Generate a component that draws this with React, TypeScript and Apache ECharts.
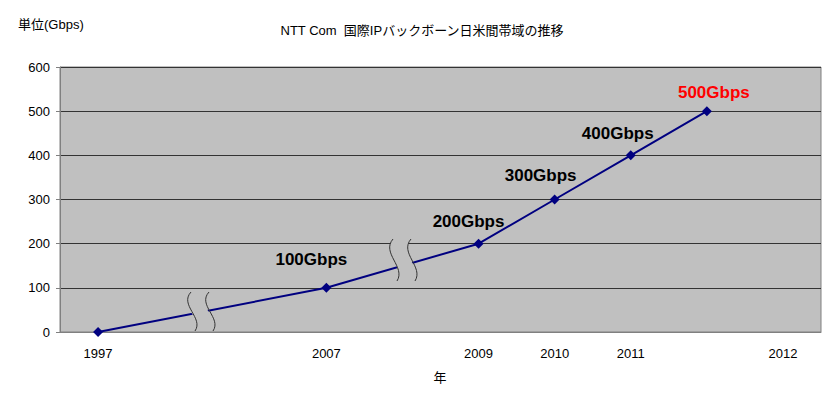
import React, { useEffect, useRef } from "react";
import * as echarts from "echarts";

const categories = ["1997", "", "", "2007", "", "2009", "2010", "2011", "", "2012"];
const bandwidth: (number | null)[] = [0, null, null, 100, null, 200, 300, 400, 500, null];
const labelTexts: (string | null)[] = [null, null, null, "100Gbps", null, "200Gbps", "300Gbps", "400Gbps", "500Gbps", null];
const labelColors: string[] = ["#000", "#000", "#000", "#000", "#000", "#000", "#000", "#000", "#ff0000", "#000"];
const labelOffsets: [number, number][] = [[0, 0], [0, 0], [0, 0], [-15, -28], [0, 0], [-10, -22], [-14, -24], [-13, -22], [7, -19], [0, 0]];

const FONT = "'Liberation Sans', Arial, 'Noto Sans CJK JP', sans-serif";

function breakMark(x: number, y: number, h: number) {
  const gap = 18;
  const q = h / 3;
  const curve = (dx: number) => ({
    type: "bezierCurve",
    shape: {
      x1: x + dx, y1: y,
      cpx1: x + dx - 12, cpy1: y + q,
      cpx2: x + dx + 13, cpy2: y + 2 * q,
      x2: x + dx + 4, y2: y + h,
    },
    style: { stroke: "#333", lineWidth: 1, fill: "none" },
    z: 101,
  });
  return [
    {
      type: "polygon",
      shape: {
        points: [
          [x - 2, y + 2], [x - 5, y + q], [x + 4, y + 2 * q], [x + 4, y + h],
          [x + gap + 4, y + h], [x + gap + 4, y + 2 * q], [x + gap - 5, y + q], [x + gap - 2, y + 2],
        ],
      },
      style: { fill: "#c0c0c0" },
      z: 100,
    },
    curve(0),
    curve(gap),
  ];
}

export default function App() {
  const ref = useRef<HTMLDivElement>(null);
  useEffect(() => {
    if (!ref.current) return;
    document.body.style.margin = "0";
    const chart = echarts.init(ref.current, null, { renderer: "svg" });
    chart.setOption({
      animation: false,
      backgroundColor: "#fff",
      textStyle: { fontFamily: FONT },
      grid: {
        left: 60, right: 5, top: 67, bottom: 67,
        show: true, backgroundColor: "#c0c0c0", borderColor: "#808080", borderWidth: 1,
      },
      xAxis: {
        type: "category",
        data: categories,
        boundaryGap: true,
        axisLine: { show: true, lineStyle: { color: "#808080" } },
        axisTick: { show: false },
        axisLabel: { interval: 0, color: "#000", fontSize: 13, margin: 15, fontFamily: FONT },
        splitLine: { show: false },
      },
      yAxis: {
        type: "value",
        min: 0, max: 600, interval: 100,
        axisLine: { show: true, lineStyle: { color: "#808080" } },
        axisTick: { show: true, length: 4, lineStyle: { color: "#808080" } },
        axisLabel: { color: "#000", fontSize: 13, margin: 10, fontFamily: FONT },
        splitLine: { show: true, lineStyle: { color: "#333", width: 1 } },
      },
      series: [
        {
          type: "line",
          connectNulls: true,
          symbol: "diamond",
          symbolSize: 10,
          itemStyle: { color: "#000080" },
          lineStyle: { color: "#000080", width: 2 },
          data: bandwidth.map((v, i) => ({
            value: v,
            label: labelTexts[i]
              ? {
                  show: true,
                  formatter: labelTexts[i] as string,
                  position: "inside",
                  offset: labelOffsets[i],
                  color: labelColors[i],
                  fontSize: 17,
                  fontWeight: "bold",
                  fontFamily: FONT,
                }
              : { show: false },
          })),
        },
      ],
      graphic: [
        { type: "text", left: 18, top: 18, style: { text: "単位(Gbps)", fontSize: 13, fill: "#000", fontFamily: FONT } },
        { type: "text", x: 422, y: 30, style: { text: "NTT Com  国際IPバックボーン日米間帯域の推移", fontSize: 13, fill: "#000", fontFamily: FONT, align: "center", verticalAlign: "middle" } },
        { type: "text", x: 440, y: 377, style: { text: "年", fontSize: 13, fill: "#000", fontFamily: FONT, align: "center", verticalAlign: "middle" } },
        ...breakMark(191, 292, 39),
        ...breakMark(393, 239, 42),
      ],
    });
    return () => chart.dispose();
  }, []);
  return <div ref={ref} style={{ width: 826, height: 399 }} />;
}
